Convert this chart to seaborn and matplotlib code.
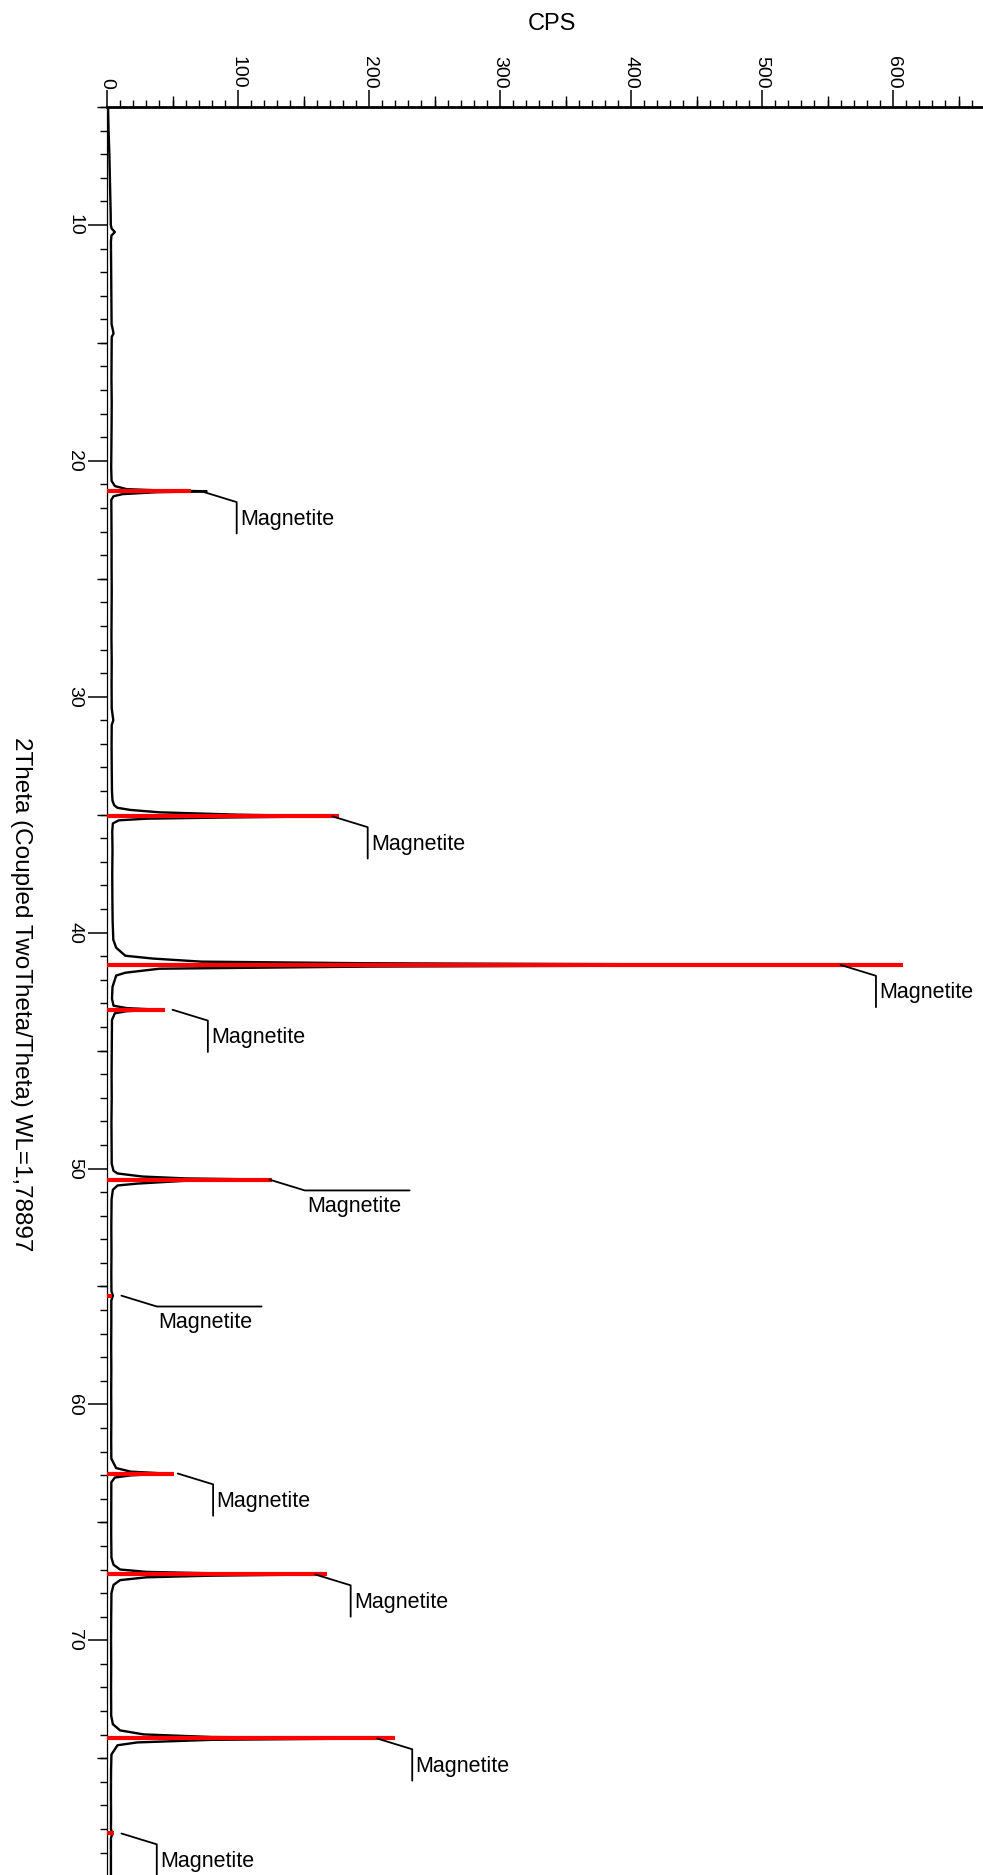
import numpy as np
import pandas as pd
import matplotlib
matplotlib.use("Agg")
import matplotlib.pyplot as plt
from matplotlib.ticker import MultipleLocator
import seaborn as sns

two_theta = [5.0, 5.5, 6.0, 6.5, 7.0, 7.5, 8.0, 8.5, 9.0, 9.5, 10.0, 10.15, 10.3, 10.45, 10.7,
             11.5, 12.5, 13.5, 14.2, 14.6, 14.75, 15.5, 16.5, 17.5, 18.5, 19.5, 20.3,
             20.85, 21.07, 21.2, 21.25, 21.29, 21.33, 21.41, 21.5, 21.65,
             22.5, 23.5, 24.5, 25.5, 26.5, 27.5, 28.5, 29.5, 30.5, 31.0, 31.2, 32.0, 33.0, 34.0,
             34.4, 34.6, 34.71, 34.8, 34.9, 35.0, 35.07, 35.12, 35.17, 35.24, 35.37, 35.7,
             36.5, 37.5, 38.5, 39.5,
             40.3, 40.64, 40.98, 41.1, 41.23, 41.3, 41.37, 41.44, 41.53, 41.7, 41.82, 42.3,
             42.8, 43.1, 43.2, 43.27, 43.33, 43.42, 43.7,
             45.0, 46.0, 47.0, 48.0, 49.0,
             49.8, 50.1, 50.21, 50.34, 50.42, 50.47, 50.52, 50.64, 50.72, 50.9, 51.3,
             52.5, 53.5, 54.5, 55.2, 55.39, 55.6, 56.5, 57.5, 58.5, 59.5, 60.5, 61.5,
             62.3, 62.7, 62.85, 62.93, 63.01, 63.1, 63.3,
             64.5, 65.5,
             66.5, 66.8, 67.0, 67.1, 67.16, 67.21, 67.26, 67.33, 67.45, 67.65, 68.0,
             69.0, 70.0, 71.0, 72.0,
             73.2, 73.56, 73.82, 73.99, 74.1, 74.16, 74.22, 74.33, 74.45, 74.84,
             75.5, 76.5, 77.5, 78.0, 78.19, 78.4, 79.2, 80.5]
cps = [0.8, 1.0, 1.2, 1.5, 1.8, 2.0, 2.2, 2.4, 2.6, 2.8, 2.9, 3.5, 6.0, 3.4, 3.0,
       3.1, 3.3, 3.4, 3.5, 5.0, 3.6, 3.5, 3.4, 3.6, 3.5, 3.3, 3.2,
       3.5, 6, 15, 38, 76, 38, 12, 5, 3.3,
       3.4, 3.5, 3.5, 3.6, 3.5, 3.4, 3.6, 3.5, 3.6, 4.8, 3.6, 3.5, 3.6, 3.8,
       4.2, 5.5, 8, 18, 40, 100, 172, 90, 30, 9, 4.5, 4.0,
       4.2, 4.0, 4.1, 4.3,
       4.8, 7, 14, 35, 72, 200, 560, 200, 40, 14, 7, 4.2,
       3.8, 5, 15, 40, 15, 6, 3.8,
       3.6, 3.5, 3.6, 3.4, 3.5,
       3.6, 5, 8, 27, 60, 124, 60, 23, 8, 4.5, 3.5,
       3.3, 3.4, 3.3, 3.4, 4.5, 3.3, 3.3, 3.2, 3.3, 3.2, 3.3, 3.2,
       3.3, 7, 18, 45, 18, 6, 3.3,
       3.2, 3.2,
       3.4, 5, 10, 30, 80, 159, 80, 30, 10, 5, 3.4,
       3.2, 3.1, 3.2, 3.1,
       3.2, 4.5, 10, 28, 80, 206, 80, 23, 8, 3.4,
       3.1, 3.0, 3.1, 3.0, 4, 3.0, 3.0, 3.0]

# Magnetite reference sticks
ref_pos = [21.29, 35.07, 41.37, 43.27, 50.47, 55.39, 62.93, 67.21, 74.16, 78.19]
ref_cps = [64, 177, 608, 44, 126, 4, 51, 168, 220, 5]
ref_name = ["Magnetite"] * 10

# where each label leader starts (CPS) and its shape
label_cps = [72, 172, 560, 50, 124, 11, 54, 159, 206, 11]
label_kind = ["v", "v", "v", "v", "h", "h", "v", "v", "v", "v"]

sns.set_style("ticks")
plt.rcParams['font.family'] = ['Liberation Sans', 'DejaVu Sans']
plt.rcParams.update({"text.color": "black", "axes.labelcolor": "black",
                     "xtick.color": "black", "ytick.color": "black",
                     "axes.edgecolor": "black"})

df = pd.DataFrame({"2Theta": two_theta, "CPS": cps})

fig = plt.figure(figsize=(9.83, 18.75), dpi=100)
ax = fig.add_axes([107 / 983, 0, 876 / 983, 1768 / 1875])

sns.lineplot(data=df, x="CPS", y="2Theta", sort=False, estimator=None,
             color="black", lw=1.7, ax=ax, zorder=2)
ax.hlines(ref_pos, 0, ref_cps, color="#ff0000", lw=3.0, zorder=3)

# leader lines + labels
dx, dy, vlen, hlen = 27, 0.46, 1.33, 80
for p, c, kind, name in zip(ref_pos, label_cps, label_kind, ref_name):
    cx, cy = c + dx, p + dy
    if kind == "v":
        ax.plot([c, cx, cx], [p, cy, cy + vlen], color="black", lw=1.3, zorder=4)
        ax.text(cx + 2.5, cy + 0.72, name, fontsize=15.5, ha="left", va="center")
    else:
        ax.plot([c, cx, cx + hlen], [p, cy, cy], color="black", lw=1.3, zorder=4)
        ax.text(cx + 1.5, cy + 0.25, name, fontsize=15.5, ha="left", va="top")

ax.set_xlim(0, 668.7)
ax.set_ylim(79.95, 5)

for s in ["right", "bottom"]:
    ax.spines[s].set_visible(False)
ax.spines["top"].set_linewidth(2.0)
ax.spines["left"].set_linewidth(0.9)

ax.xaxis.tick_top()
ax.xaxis.set_major_locator(MultipleLocator(100))
ax.xaxis.set_minor_locator(MultipleLocator(10))
ax.yaxis.set_major_locator(MultipleLocator(10))
ax.yaxis.set_minor_locator(MultipleLocator(1))
ax.tick_params(axis="x", which="major", length=12, width=1.1, pad=1, labelsize=14,
               labelrotation=-90, top=True, bottom=False, direction="out")
ax.tick_params(axis="x", which="minor", length=5, width=1.0, top=True, bottom=False)
ax.tick_params(axis="y", which="major", length=13.5, width=1.1, pad=3.5, labelsize=14,
               labelrotation=-90, direction="out")
ax.tick_params(axis="y", which="minor", length=5, width=1.0)
for lab in ax.get_xticklabels():
    lab.set_ha("center")
    lab.set_va("bottom")
for lab in ax.get_yticklabels():
    lab.set_ha("right")
    lab.set_va("center")

# medium ticks at the halves
secx = ax.secondary_xaxis("top")
secx.set_xticks(np.arange(50, 670, 100))
secx.tick_params(length=8, width=1.0, labeltop=False)
secx.spines["top"].set_visible(False)
secy = ax.secondary_yaxis("left")
secy.set_yticks(np.arange(5, 80, 10))
secy.tick_params(length=7.5, width=1.0, labelleft=False)
secy.spines["left"].set_visible(False)

ax.set_xlabel("CPS", fontsize=17)
ax.xaxis.set_label_position("top")
ax.xaxis.set_label_coords(0.508, 1.047)
ax.xaxis.label.set_va("center")
ax.set_ylabel("2Theta (Coupled TwoTheta/Theta) WL=1,78897", fontsize=17.5, rotation=-90)
ax.yaxis.set_label_coords(-0.098, 0.498)
ax.yaxis.label.set_va("center")
ax.yaxis.label.set_ha("center")

fig.savefig("out.png", dpi=100)
